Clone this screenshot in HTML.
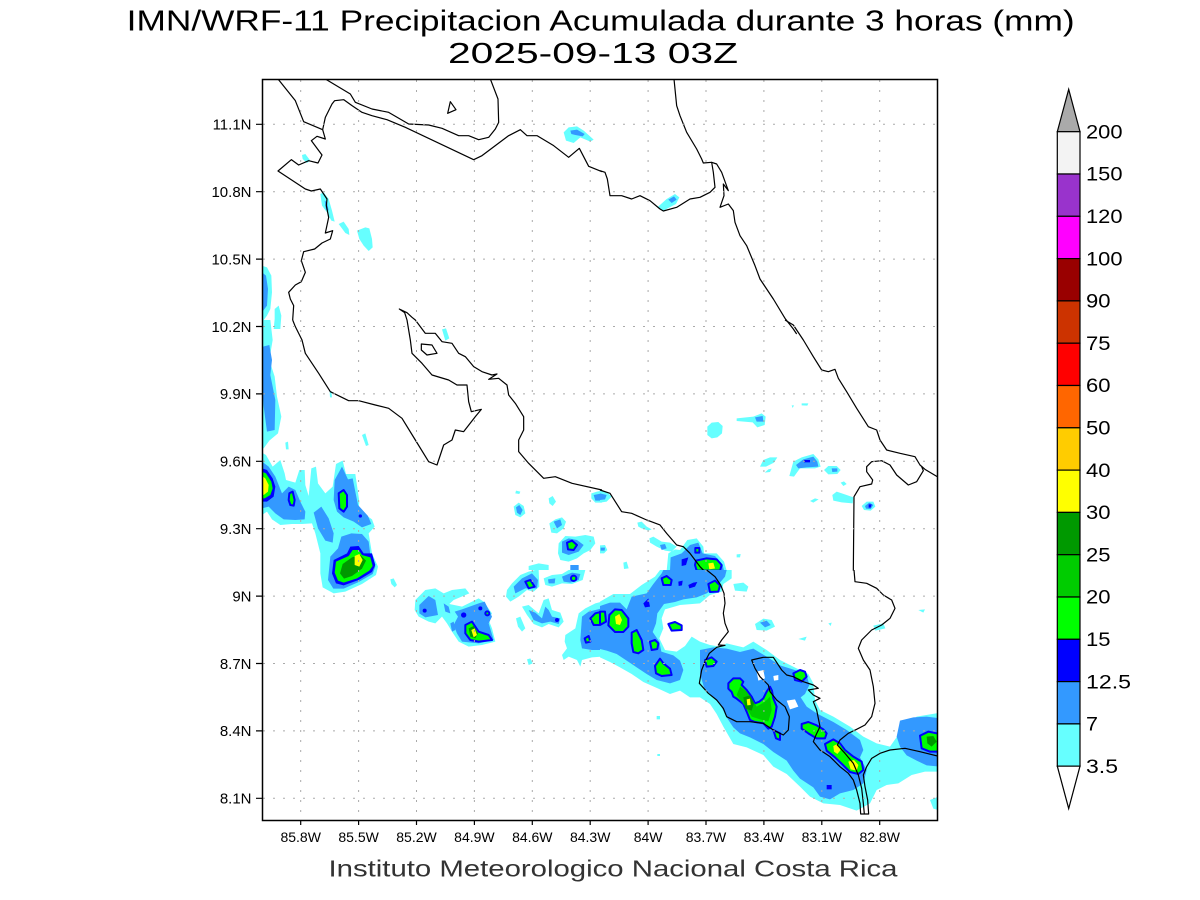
<!DOCTYPE html>
<html><head><meta charset="utf-8"><style>
html,body{margin:0;padding:0;background:#fff;}
svg{display:block;}
.c{fill:#66ffff}.l{fill:#3399ff}.b{fill:#0000ff}
.g{fill:#00ff00;stroke:#0000ff;stroke-width:6;stroke-linejoin:round}
.m{fill:#00cc00}.d{fill:#009900}.y{fill:#ffff00}.w{fill:#fff}
.k{fill:none;stroke:#000;stroke-width:1.2;stroke-linejoin:round;vector-effect:non-scaling-stroke}
.t{font-family:"Liberation Sans",sans-serif;fill:#000}
</style></head><body>
<svg xmlns="http://www.w3.org/2000/svg" width="1200" height="900" viewBox="0 0 1200 900">
<rect width="1200" height="900" fill="#fff"/>
<defs><clipPath id="pc"><rect x="262.5" y="79.5" width="675" height="741"/></clipPath></defs>
<g clip-path="url(#pc)">
<!-- Z4 -->
<g transform="translate(262,79) scale(0.33333)">
<polygon class="c" points="905,160 920,145 945,142 965,155 995,182 985,188 955,175 935,192 912,185"/>
<polygon class="l" points="925,155 945,152 968,165 962,172 940,168 928,165"/>
<polygon class="c" points="120,228 130,225 145,245 135,252 122,240"/>
<polygon class="c" points="175,345 185,340 200,360 210,395 218,428 208,425 195,400 180,380"/>
<polygon class="l" points="188,365 195,370 200,395 192,392"/>
<polygon class="c" points="230,435 245,428 260,450 262,468 250,462"/>
<polygon class="c" points="285,455 310,445 322,448 330,480 332,505 320,516 305,500 292,480"/>
<polygon class="c" points="0,560 15,565 28,590 30,640 25,690 15,710 0,730"/>
<polygon class="l" points="0,580 12,590 18,630 15,680 0,700"/>
<polygon class="c" points="38,690 50,680 58,710 55,750 35,750 38,720"/>
<polyline class="k" points="190,0 265,45 280,70 330,90 380,100 440,135 500,138 540,148 590,170 620,170 650,182 680,175 700,150 710,130 708,60 685,0"/>
<polyline class="k" points="48,0 100,65 125,128 182,152"/>
<polyline class="k" points="182,152 190,115 210,75 218,65 245,62 270,80 300,100 330,110 375,122 430,145 635,242 660,230 700,200 740,170 775,152 795,170 825,170 875,200 920,235 952,208 980,262 1020,278"/>
<polyline class="k" points="182,152 190,180 165,172 148,185 180,228 168,252 140,245 110,258 88,242 48,276 130,330 148,336 175,330 195,360 193,380 200,415 190,462 212,455 205,480 180,492 158,510 125,518 118,545 130,580 118,608 100,618 80,640 85,660 95,680 92,723"/>
<polygon class="k" points="565,68 582,92 557,103"/>
</g>
<!-- Z5 -->
<g transform="translate(600,79) scale(0.33333)">
<polygon class="c" points="172,385 200,360 225,345 238,355 228,375 188,396"/>
<polygon class="l" points="205,362 222,352 230,362 215,372"/>
<polyline class="k" points="222,0 230,80 240,110 260,160 290,210 305,240 310,252 335,250"/>
<polyline class="k" points="0,275 15,280 22,300 30,350 65,350 95,360 120,350 150,365 180,390 190,396 230,385 270,360 300,355 330,340 345,325 340,280 335,250 350,255 365,280 385,335 370,315 372,350 360,385 385,375 400,395 405,430 420,470 440,500 465,560 480,600 520,660 555,718 580,750 590,765"/>
</g>
<!-- Z6 -->
<g transform="translate(262,320) scale(0.33333)">
<polygon class="c" points="0,0 25,0 32,60 22,120 38,170 45,230 58,290 48,340 22,362 5,385 0,385"/>
<polygon class="l" points="3,80 22,75 30,120 25,165 40,240 38,330 15,335 5,260 0,200"/>
<polygon class="c" points="540,28 552,25 562,55 550,62"/>
<polygon class="c" points="300,345 310,340 320,375 312,378"/>
<polygon class="c" points="70,368 78,365 80,388 72,388"/>
<polygon class="c" points="203,215 208,213 210,232 204,232"/>
<polygon class="c" points="762,512 775,515 772,522 760,520"/>
<polygon class="c" points="755,560 770,548 785,558 790,580 775,592 760,585"/>
<polygon class="l" points="762,562 772,555 782,570 775,585 765,578"/>
<polygon class="c" points="860,535 872,528 882,545 872,558 862,550"/>
<polygon class="c" points="862,610 880,598 900,592 912,605 905,625 885,640 868,638"/>
<polygon class="l" points="875,605 895,598 900,615 885,625"/>
<polygon class="c" points="890,670 910,648 940,650 970,645 995,650 1000,670 985,690 965,700 945,715 920,725 895,720 888,700"/>
<polygon class="l" points="900,665 920,655 945,660 965,675 950,695 920,705 900,698"/>
<polygon class="g" points="915,668 930,662 945,675 935,690 918,688"/>
<polygon class="c" points="988,520 1005,515 1020,512 1020,548 1000,548 988,535"/>
<polygon class="l" points="995,525 1020,520 1020,542 1000,542"/>
<polygon class="c" points="800,738 830,730 860,735 860,750 800,750"/>
<polygon class="l" points="925,735 950,735 950,750 925,750"/>
<polygon class="c" points="0,398 12,405 32,440 55,420 68,460 72,480 100,488 112,450 128,450 130,495 140,528 148,445 162,440 168,490 190,520 212,500 222,432 242,422 252,462 280,462 292,545 290,570 330,598 338,620 320,640 330,700 348,740 342,765 300,792 250,815 215,820 182,802 175,760 175,700 160,640 150,610 120,612 90,612 55,615 30,598 15,575 0,585"/>
<polygon class="l" points="0,425 20,440 40,470 60,520 80,500 100,510 115,545 130,575 128,598 100,600 65,598 40,580 20,560 0,565"/>
<polygon class="l" points="155,578 178,560 200,595 215,640 212,668 190,662 168,625"/>
<polygon class="l" points="218,480 240,440 258,478 272,475 288,555 318,588 328,612 300,622 275,605 245,592 225,575 215,540"/>
<polygon class="l" points="205,710 228,685 238,650 268,640 300,642 320,665 325,705 340,740 332,762 290,786 245,806 214,806 198,780"/>
<polygon class="b" points="0,445 15,450 32,475 40,500 35,530 15,545 0,545"/>
<polygon class="g" style="stroke:none" points="0,455 12,460 28,485 32,505 25,525 8,535 0,535"/>
<polygon class="y" points="0,468 10,475 20,495 18,515 5,525 0,522"/>
<polygon class="g" points="82,520 92,515 98,540 95,557 85,555 80,540"/>
<polygon class="g" points="230,520 245,510 255,525 255,560 245,575 232,565"/>
<circle class="b" cx="295" cy="588" r="5"/>
<polygon class="b" points="215,720 255,700 265,680 290,678 305,700 330,700 340,735 330,756 290,780 245,796 222,790 210,760"/>
<polygon class="g" style="stroke:none" points="222,725 260,708 272,690 290,690 300,705 325,712 332,738 322,752 285,775 245,788 228,782 218,758"/>
<polygon class="d" points="242,732 270,712 295,705 312,722 300,746 270,768 246,776 234,760"/>
<polygon class="y" points="278,708 292,702 302,720 292,740 278,735"/>
<polyline class="k" points="92,0 100,20 120,60 130,100 170,160 205,215 260,242 290,242 340,255 380,265 420,295 460,360 500,425 525,435 545,375 570,360 580,330 605,335 640,290 658,268 628,275 620,245 615,195 585,195 560,180 510,165 480,130 450,100 445,60 435,0 428,-22 412,-33 435,-22 450,-8 460,0 490,40 520,40 540,65 570,70 590,100 610,110 635,140 660,155 690,165 705,162 680,178 710,175 735,195 740,225 760,250 785,290 785,330 770,360 770,395 800,430 845,475 880,470 930,490 1020,510"/>
<polygon class="k" points="478,72 510,75 525,100 495,105 478,90"/>
</g>
<!-- Z8 -->
<g transform="translate(262,570) scale(0.33333)">
<polygon class="c" points="385,28 395,25 405,45 398,52 388,42"/>
<polygon class="c" points="460,90 490,60 520,55 545,70 570,60 610,55 622,70 575,90 562,102 600,110 650,85 665,95 690,130 680,150 690,175 700,215 660,225 620,230 590,215 570,185 555,160 540,140 520,160 500,155 470,140 458,120"/>
<polygon class="l" points="472,105 500,78 520,90 528,135 490,142 472,130"/>
<polygon class="l" points="578,125 600,118 650,100 668,95 690,140 680,160 695,210 650,220 600,215 585,190 575,165 588,140"/>
<polygon class="l" points="545,100 560,110 565,130 550,125"/>
<polygon class="l" points="565,160 575,155 580,180 570,185"/>
<polygon class="g" points="610,165 630,155 650,185 680,195 690,210 650,215 625,210 610,190"/>
<polygon class="d" points="620,175 635,168 648,190 640,205 625,200"/>
<polygon class="y" points="628,180 638,175 645,195 635,202"/>
<circle class="b" cx="488" cy="122" r="6"/>
<circle class="b" cx="605" cy="135" r="8"/>
<circle class="b" cx="655" cy="115" r="6"/>
<circle class="g" cx="676" cy="130" r="6"/>
<polygon class="c" points="735,60 750,40 775,15 800,5 820,0 830,0 832,50 815,65 795,60 770,80 745,95 732,80"/>
<polygon class="l" points="755,50 780,25 810,10 828,30 825,55 790,55 760,70"/>
<polygon class="g" points="790,35 805,30 818,50 800,55"/>
<polygon class="c" points="845,25 870,15 900,12 920,0 970,0 962,30 930,42 900,40 870,50 850,45"/>
<polygon class="l" points="900,20 930,8 955,12 950,30 925,38 905,35"/>
<polygon class="l" points="858,28 880,25 878,40 860,40"/>
<circle class="g" cx="935" cy="25" r="8"/>
<polygon class="c" points="780,110 800,105 830,130 845,90 860,85 870,120 895,128 905,155 890,172 860,162 840,172 815,162 795,135"/>
<polygon class="l" points="800,120 820,128 840,145 850,110 860,120 870,140 895,145 890,162 865,155 840,160 815,150"/>
<circle class="b" cx="885" cy="150" r="6"/>
<polygon class="c" points="762,145 775,140 790,175 780,185 768,170"/>
<polygon class="c" points="795,268 805,265 812,280 800,285"/>
<polygon class="c" points="910,195 940,175 950,130 970,115 1000,100 1020,95 1020,260 990,262 960,270 955,290 945,270 920,260 905,270 900,255 915,235 908,215"/>
<polygon class="l" points="955,210 960,140 980,125 1020,115 1020,240 990,240 960,235"/>
<polygon class="g" points="985,145 1000,130 1020,125 1020,165 995,165"/>
<polygon class="g" points="968,205 980,198 985,215 972,218"/>
</g>
<!-- Z7 -->
<g transform="translate(600,320) scale(0.33333)">
<polygon class="c" points="322,320 335,308 355,306 368,318 366,340 352,352 335,355 322,345"/>
<polygon class="c" points="410,295 460,290 485,280 497,290 494,315 472,322 458,307 410,303"/>
<polygon class="l" points="465,292 488,288 490,305 470,305"/>
<polygon class="c" points="575,256 582,256 578,264"/>
<polygon class="c" points="605,250 625,250 622,257 605,256"/>
<polygon class="c" points="480,440 490,420 510,412 532,412 522,428 498,440"/>
<polygon class="c" points="494,458 505,448 515,446 510,456"/>
<polygon class="c" points="568,468 580,425 605,412 640,402 655,418 662,440 645,445 600,445 582,470"/>
<polygon class="l" points="588,435 610,418 640,410 652,425 655,440 620,442 595,445"/>
<polygon class="b" points="612,420 630,420 630,427 612,427"/>
<polygon class="c" points="672,450 685,438 710,438 722,450 712,462 685,463"/>
<polygon class="l" points="695,445 712,445 712,455 697,456"/>
<polygon class="c" points="722,488 732,484 740,492 730,498"/>
<polygon class="c" points="697,525 710,515 740,525 760,532 758,550 725,547 700,542"/>
<polygon class="c" points="630,543 645,535 656,538 640,548"/>
<polygon class="c" points="785,558 800,545 820,545 826,560 812,572 792,570"/>
<polygon class="l" points="795,558 808,548 820,555 812,567 798,566"/>
<polygon class="b" points="806,553 815,553 812,563 806,563"/>
<polygon class="c" points="0,510 22,518 35,530 20,545 0,548"/>
<polygon class="l" points="0,520 20,525 15,538 0,540"/>
<polygon class="c" points="112,608 125,605 140,620 155,628 145,632 125,625 115,620"/>
<polygon class="c" points="148,655 160,650 185,665 210,668 230,680 215,695 195,692 170,680 150,668"/>
<polygon class="l" points="180,675 195,672 200,685 185,690"/>
<polygon class="c" points="0,676 15,675 22,690 12,700 0,700"/>
<polygon class="l" points="2,683 15,683 14,692 2,692"/>
<polygon class="c" points="70,728 80,725 86,745 72,747"/>
<polygon class="c" points="205,700 225,688 240,690 262,660 290,655 310,680 312,700 350,700 372,725 380,752 200,752"/>
<polygon class="l" points="212,712 245,700 270,675 295,668 308,700 345,708 368,735 372,752 210,752"/>
<polygon class="g" points="288,722 320,715 350,718 365,735 360,752 290,752 285,735"/>
<polygon class="y" points="325,730 340,728 345,745 328,748"/>
<polygon class="g" points="286,684 298,684 298,698 286,698"/>
<polygon class="b" points="245,718 265,712 258,735 245,738"/>
<polygon class="c" points="410,703 422,702 420,712 410,712"/>
<polyline class="k" points="555,0 580,15 610,60 640,110 665,150 685,155 705,148 715,175 740,215 770,265 805,320 830,330 840,360 860,390 900,400 945,410 960,435 975,448 1020,475"/>
<polyline class="k" points="965,440 970,452 950,485 925,495 890,465 870,435 845,422 815,425 800,440 800,455 818,480 815,492 780,500 762,530 760,752"/>
<polyline class="k" points="0,510 30,520 65,575 95,580 140,600 180,615 200,640 230,675 250,680 270,700 285,720 300,740 312,752"/>
</g>
<!-- Z9 -->
<g transform="translate(600,570) scale(0.33333)">
<polygon class="c" points="0,95 40,72 90,72 125,45 165,20 180,0 395,0 395,25 370,42 365,65 330,75 300,100 240,105 195,118 185,145 190,175 178,205 195,240 230,245 255,228 275,200 300,215 330,225 360,230 380,220 430,232 460,215 500,240 540,270 590,295 625,312 640,340 645,390 660,420 700,440 750,470 790,500 830,520 870,530 905,480 950,440 1020,428 1020,605 975,605 935,615 895,640 860,645 830,660 810,700 770,722 720,705 670,700 630,680 600,650 560,612 520,590 490,555 440,532 400,522 370,470 350,432 330,402 300,382 270,382 240,362 210,372 175,356 130,336 95,312 60,292 30,276 0,262"/>
<polygon class="l" points="0,108 30,98 60,98 80,118 95,80 140,70 160,42 185,10 190,0 380,0 375,20 350,50 320,70 290,82 250,88 225,96 192,102 172,130 168,160 158,186 178,215 184,245 220,256 240,272 250,300 240,330 210,340 170,330 140,312 110,292 80,272 50,252 20,242 0,237"/>
<polygon class="l" points="300,240 340,232 380,236 420,246 460,236 500,260 540,286 590,302 622,322 628,345 615,372 602,382 620,410 650,430 700,456 740,480 780,510 790,540 780,562 800,600 790,640 760,660 720,670 690,688 660,680 640,652 600,626 580,602 560,572 520,546 490,522 450,502 420,490 400,472 380,442 360,402 340,382 312,352 300,312"/>
<polygon class="l" points="900,452 940,442 980,440 1020,445 1020,590 980,586 950,572 920,556 900,530 890,500"/>
<polygon class="w" points="470,305 490,300 495,325 475,332"/>
<polygon class="w" points="520,318 535,315 535,330 522,332"/>
<polygon class="w" points="560,392 585,388 595,410 570,418"/>
<polygon class="c" points="465,162 490,146 515,150 525,170 500,182 470,180"/>
<polygon class="l" points="480,158 500,152 512,165 495,172"/>
<polygon class="c" points="595,207 620,200 615,212"/>
<polygon class="c" points="955,120 975,118 970,128"/>
<polygon class="c" points="685,160 695,158 692,168"/>
<polygon class="c" points="820,167 850,160 856,175 826,182"/>
<polygon class="c" points="990,690 1020,678 1020,722 1000,716"/>
<polygon class="c" points="400,42 430,38 445,50 440,65 405,62"/>
<polygon class="c" points="170,438 180,438 180,448 170,448"/>
<polygon class="c" points="172,552 180,552 180,558 172,558"/>
<polygon class="g" points="28,135 45,118 65,120 85,145 85,170 70,186 45,186 25,166"/>
<polygon class="y" points="45,140 58,132 66,150 60,165 48,162"/>
<polygon class="g" points="0,125 15,125 18,155 0,165"/>
<polygon class="g" points="95,188 110,180 125,210 130,240 115,250 100,246 95,220"/>
<polygon class="g" points="150,215 165,210 175,220 172,237 155,240"/>
<polygon class="g" points="205,162 225,156 245,166 245,180 215,182"/>
<polygon class="g" points="165,288 180,266 190,280 210,296 215,315 185,318 168,310"/>
<polygon class="g" points="325,42 345,32 360,46 355,65 330,66"/>
<polygon class="g" points="185,25 200,18 215,30 212,45 190,45"/>
<polygon class="g" points="315,270 335,262 350,275 340,288 320,290"/>
<polygon class="g" points="385,340 400,325 420,325 430,335 425,345 440,360 455,380 465,400 478,395 490,385 500,365 510,350 516,362 520,385 530,410 525,440 515,470 505,476 490,460 465,456 450,450 440,425 430,402 410,386 400,380 395,366 385,356"/>
<polygon class="m" points="420,350 440,365 458,392 470,410 495,395 510,380 515,420 505,455 480,448 455,440 440,415 425,395 410,375"/>
<polygon class="d" points="430,382 450,376 462,400 455,422 436,416"/>
<polygon class="y" points="440,388 450,386 452,405 442,406"/>
<polygon class="g" points="580,310 600,300 615,305 620,320 605,335 585,330"/>
<polygon class="g" points="605,462 625,456 650,466 670,478 680,490 675,505 650,505 625,490 605,476"/>
<polygon class="g" points="675,522 700,508 720,520 735,540 760,560 785,575 790,600 775,612 750,606 730,586 705,562 680,542"/>
<polygon class="y" points="700,528 712,522 722,540 712,552 702,545"/>
<polygon class="y" points="745,575 762,570 775,585 770,602 752,598"/>
<polygon class="g" points="960,497 985,485 1010,490 1020,495 1020,545 990,545 965,535"/>
<polygon class="d" points="980,500 1000,498 1010,515 995,530 982,520"/>
<polygon class="g" points="520,480 540,490 540,510 528,505"/>
<polygon class="b" points="680,645 695,645 695,658 680,658"/>
<polygon class="b" points="235,35 248,32 246,46 236,48"/>
<polygon class="b" points="265,45 280,38 292,36 285,50 268,55"/>
<polygon class="b" points="130,100 145,85 150,110 135,112"/>
<polyline class="k" points="320,0 345,20 362,45 372,70 375,100 370,130 375,160 385,185 365,210 355,225 375,226 350,232 328,250 315,275 305,300 298,340 325,370 350,390 370,415 380,440 410,455 450,455 490,460 520,480 550,495 565,480 568,440 555,410 530,390 510,365 505,345 480,320 465,295 455,270 490,262 520,262 545,300 560,315 580,320 610,335 640,345 655,355 625,360 640,375 660,385 640,395 650,420 655,445 660,470 648,495 640,515 660,540 690,560 720,590 745,610 760,630 770,660 780,700 782,732 806,732 803,690 795,650 790,615 800,590 815,565 840,550 870,540 915,535 960,545 1020,560"/>
<polyline class="k" points="762,0 765,35 800,40 830,55 850,75 875,90 885,115 870,145 845,165 815,180 800,195 785,210 775,235 790,270 810,300 820,350 825,400 815,440 795,465 770,478 745,490 720,510 712,525 735,550 760,580 775,615 785,655 790,700 793,732"/>
</g>
<!-- grid -->
<g stroke="#aaa" stroke-width="1" stroke-dasharray="2 8" fill="none">
<path d="M300.7 80V820M358.6 80V820M416.5 80V820M474.4 80V820M532.3 80V820M590.2 80V820M648.1 80V820M706 80V820M763.9 80V820M821.8 80V820M879.7 80V820"/>
<path d="M263 124.3H937M263 191.7H937M263 259.1H937M263 326.5H937M263 393.9H937M263 461.3H937M263 528.7H937M263 596.1H937M263 663.5H937M263 730.9H937M263 798.3H937"/>
</g>
</g>
<rect x="262.5" y="79.5" width="675" height="741" fill="none" stroke="#000" stroke-width="1.5"/>
<g stroke="#000" stroke-width="1.2">
<path d="M256 124.3H262.5M256 191.7H262.5M256 259.1H262.5M256 326.5H262.5M256 393.9H262.5M256 461.3H262.5M256 528.7H262.5M256 596.1H262.5M256 663.5H262.5M256 730.9H262.5M256 798.3H262.5"/>
<path d="M300.7 820.5V825M358.6 820.5V825M416.5 820.5V825M474.4 820.5V825M532.3 820.5V825M590.2 820.5V825M648.1 820.5V825M706 820.5V825M763.9 820.5V825M821.8 820.5V825M879.7 820.5V825"/>
</g>
<g class="t" font-size="15" text-anchor="end">
<text x="251.5" y="129.6">11.1N</text>
<text x="251.5" y="197">10.8N</text>
<text x="251.5" y="264.4">10.5N</text>
<text x="251.5" y="331.8">10.2N</text>
<text x="251.5" y="399.2">9.9N</text>
<text x="251.5" y="466.6">9.6N</text>
<text x="251.5" y="534">9.3N</text>
<text x="251.5" y="601.4">9N</text>
<text x="251.5" y="668.8">8.7N</text>
<text x="251.5" y="736.2">8.4N</text>
<text x="251.5" y="803.6">8.1N</text>
</g>
<g class="t" font-size="14" text-anchor="middle">
<text x="300.7" y="842">85.8W</text>
<text x="358.6" y="842">85.5W</text>
<text x="416.5" y="842">85.2W</text>
<text x="474.4" y="842">84.9W</text>
<text x="532.3" y="842">84.6W</text>
<text x="590.2" y="842">84.3W</text>
<text x="648.1" y="842">84W</text>
<text x="706" y="842">83.7W</text>
<text x="763.9" y="842">83.4W</text>
<text x="821.8" y="842">83.1W</text>
<text x="879.7" y="842">82.8W</text>
</g>
<text class="t" x="126.7" y="30.5" font-size="29" textLength="948" lengthAdjust="spacingAndGlyphs">IMN/WRF-11 Precipitacion Acumulada durante 3 horas (mm)</text>
<text class="t" x="448" y="63" font-size="29" textLength="290" lengthAdjust="spacingAndGlyphs">2025-09-13 03Z</text>
<text class="t" x="328.5" y="876.7" font-size="23" textLength="569" lengthAdjust="spacingAndGlyphs" style="fill:#333">Instituto Meteorologico Nacional Costa Rica</text>
<!-- colorbar -->
<g stroke="#000" stroke-width="1.2">
<polygon points="1057.3,131.7 1080,131.7 1068.7,89.3" fill="#aaaaaa"/>
<rect x="1057.3" y="131.7" width="22.7" height="42.3" fill="#f3f3f3"/>
<rect x="1057.3" y="174" width="22.7" height="42.3" fill="#9933cc"/>
<rect x="1057.3" y="216.3" width="22.7" height="42.3" fill="#ff00ff"/>
<rect x="1057.3" y="258.6" width="22.7" height="42.3" fill="#990000"/>
<rect x="1057.3" y="300.9" width="22.7" height="42.3" fill="#cc3300"/>
<rect x="1057.3" y="343.2" width="22.7" height="42.3" fill="#ff0000"/>
<rect x="1057.3" y="385.5" width="22.7" height="42.3" fill="#ff6600"/>
<rect x="1057.3" y="427.8" width="22.7" height="42.3" fill="#ffcc00"/>
<rect x="1057.3" y="470.1" width="22.7" height="42.3" fill="#ffff00"/>
<rect x="1057.3" y="512.4" width="22.7" height="42.3" fill="#009900"/>
<rect x="1057.3" y="554.7" width="22.7" height="42.3" fill="#00cc00"/>
<rect x="1057.3" y="597" width="22.7" height="42.3" fill="#00ff00"/>
<rect x="1057.3" y="639.3" width="22.7" height="42.3" fill="#0000ff"/>
<rect x="1057.3" y="681.6" width="22.7" height="42.3" fill="#3399ff"/>
<rect x="1057.3" y="723.9" width="22.7" height="42.3" fill="#66ffff"/>
<polygon points="1057.3,766.2 1080,766.2 1068.7,808.5" fill="#fff"/>
</g>
<g class="t" font-size="19">
<text x="1086" y="138.4" textLength="36.5" lengthAdjust="spacingAndGlyphs">200</text>
<text x="1086" y="180.7" textLength="36.5" lengthAdjust="spacingAndGlyphs">150</text>
<text x="1086" y="223" textLength="36.5" lengthAdjust="spacingAndGlyphs">120</text>
<text x="1086" y="265.3" textLength="36.5" lengthAdjust="spacingAndGlyphs">100</text>
<text x="1086" y="307.6" textLength="24.5" lengthAdjust="spacingAndGlyphs">90</text>
<text x="1086" y="349.9" textLength="24.5" lengthAdjust="spacingAndGlyphs">75</text>
<text x="1086" y="392.2" textLength="24.5" lengthAdjust="spacingAndGlyphs">60</text>
<text x="1086" y="434.5" textLength="24.5" lengthAdjust="spacingAndGlyphs">50</text>
<text x="1086" y="476.8" textLength="24.5" lengthAdjust="spacingAndGlyphs">40</text>
<text x="1086" y="519.1" textLength="24.5" lengthAdjust="spacingAndGlyphs">30</text>
<text x="1086" y="561.4" textLength="24.5" lengthAdjust="spacingAndGlyphs">25</text>
<text x="1086" y="603.7" textLength="24.5" lengthAdjust="spacingAndGlyphs">20</text>
<text x="1086" y="646" textLength="24.5" lengthAdjust="spacingAndGlyphs">15</text>
<text x="1086" y="688.3" textLength="45" lengthAdjust="spacingAndGlyphs">12.5</text>
<text x="1086" y="730.6" textLength="12" lengthAdjust="spacingAndGlyphs">7</text>
<text x="1086" y="772.9" textLength="32" lengthAdjust="spacingAndGlyphs">3.5</text>
</g>
</svg>
</body></html>
